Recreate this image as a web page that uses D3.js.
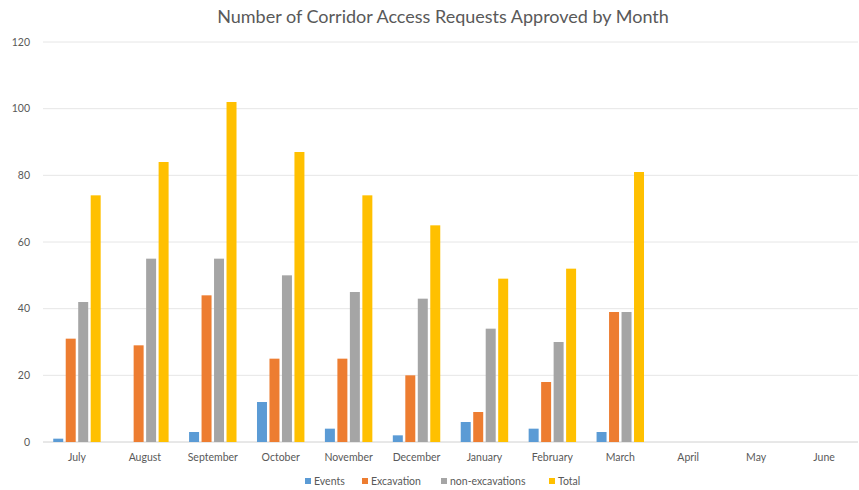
<!DOCTYPE html>
<html>
<head>
<meta charset="utf-8">
<script src="https://cdn.jsdelivr.net/npm/d3@7"></script>
<style>
  body { margin: 0; background: #fff; }
  text { font-family: Lato, "Open Sans", sans-serif; fill: #595959; }
</style>
</head>
<body>
<div id="chart"></div>
<script>
const months = ["July", "August", "September", "October", "November", "December",
  "January", "February", "March", "April", "May", "June"];
const seriesNames = ["Events", "Excavation", "non-excavations", "Total"];
const events = [1, 0, 3, 12, 4, 2, 6, 4, 3, null, null, null];
const excavation = [31, 29, 44, 25, 25, 20, 9, 18, 39, null, null, null];
const nonExcavations = [42, 55, 55, 50, 45, 43, 34, 30, 39, null, null, null];
const total = [74, 84, 102, 87, 74, 65, 49, 52, 81, null, null, null];
const yTicks = [0, 20, 40, 60, 80, 100, 120];
const colors = ["#5B9BD5", "#ED7D31", "#A5A5A5", "#FFC000"];

const seriesValues = [events, excavation, nonExcavations, total];

const width = 859, height = 490;
const margin = { top: 42, right: 1, bottom: 48, left: 43 };

const svg = d3.select("#chart").append("svg")
  .attr("width", width)
  .attr("height", height);

const x0 = d3.scaleBand()
  .domain(months)
  .range([margin.left, width - margin.right]);

const x1 = d3.scaleBand()
  .domain(seriesNames)
  .range([0, x0.bandwidth()])
  .paddingInner(0.2)
  .paddingOuter(0.82);

const y = d3.scaleLinear()
  .domain([0, 120])
  .range([height - margin.bottom, margin.top]);

const color = d3.scaleOrdinal().domain(seriesNames).range(colors);

// gridlines
svg.append("g")
  .selectAll("line")
  .data(yTicks)
  .join("line")
  .attr("x1", margin.left)
  .attr("x2", width - margin.right)
  .attr("y1", d => y(d))
  .attr("y2", d => y(d))
  .attr("stroke", d => d === 0 ? "#d0d0d0" : "#e6e6e6")
  .attr("stroke-width", 1);

// y tick labels
svg.append("g")
  .selectAll("text")
  .data(yTicks)
  .join("text")
  .attr("x", margin.left - 13)
  .attr("y", d => y(d))
  .attr("dy", "0.35em")
  .attr("text-anchor", "end")
  .attr("font-size", 10.5)
  .text(d => d);

// bars
const rows = months.map((m, i) => ({
  month: m,
  values: seriesNames.map((s, j) => ({ key: s, value: seriesValues[j][i] }))
}));

svg.append("g")
  .selectAll("g")
  .data(rows)
  .join("g")
  .attr("transform", d => `translate(${x0(d.month)},0)`)
  .selectAll("rect")
  .data(d => d.values.filter(v => v.value != null && v.value > 0))
  .join("rect")
  .attr("x", d => x1(d.key))
  .attr("width", x1.bandwidth())
  .attr("y", d => y(d.value))
  .attr("height", d => y(0) - y(d.value))
  .attr("fill", d => color(d.key));

// month labels
svg.append("g")
  .selectAll("text")
  .data(months)
  .join("text")
  .attr("x", d => x0(d) + x0.bandwidth() / 2)
  .attr("y", height - margin.bottom + 19)
  .attr("text-anchor", "middle")
  .attr("font-size", 10.5)
  .text(d => d);

// title
svg.append("text")
  .attr("x", 443)
  .attr("y", 23)
  .attr("text-anchor", "middle")
  .attr("font-size", 18)
  .text("Number of Corridor Access Requests Approved by Month");

// legend
const legendX = [305, 362, 441, 549];
const legend = svg.append("g")
  .selectAll("g")
  .data(seriesNames)
  .join("g")
  .attr("transform", (d, i) => `translate(${legendX[i]},${height - 9})`);

legend.append("rect")
  .attr("x", 0)
  .attr("y", -3)
  .attr("width", 6)
  .attr("height", 6)
  .attr("fill", d => color(d));

legend.append("text")
  .attr("x", 9)
  .attr("y", 0)
  .attr("dy", "0.35em")
  .attr("font-size", 10.5)
  .text(d => d);
</script>
</body>
</html>
